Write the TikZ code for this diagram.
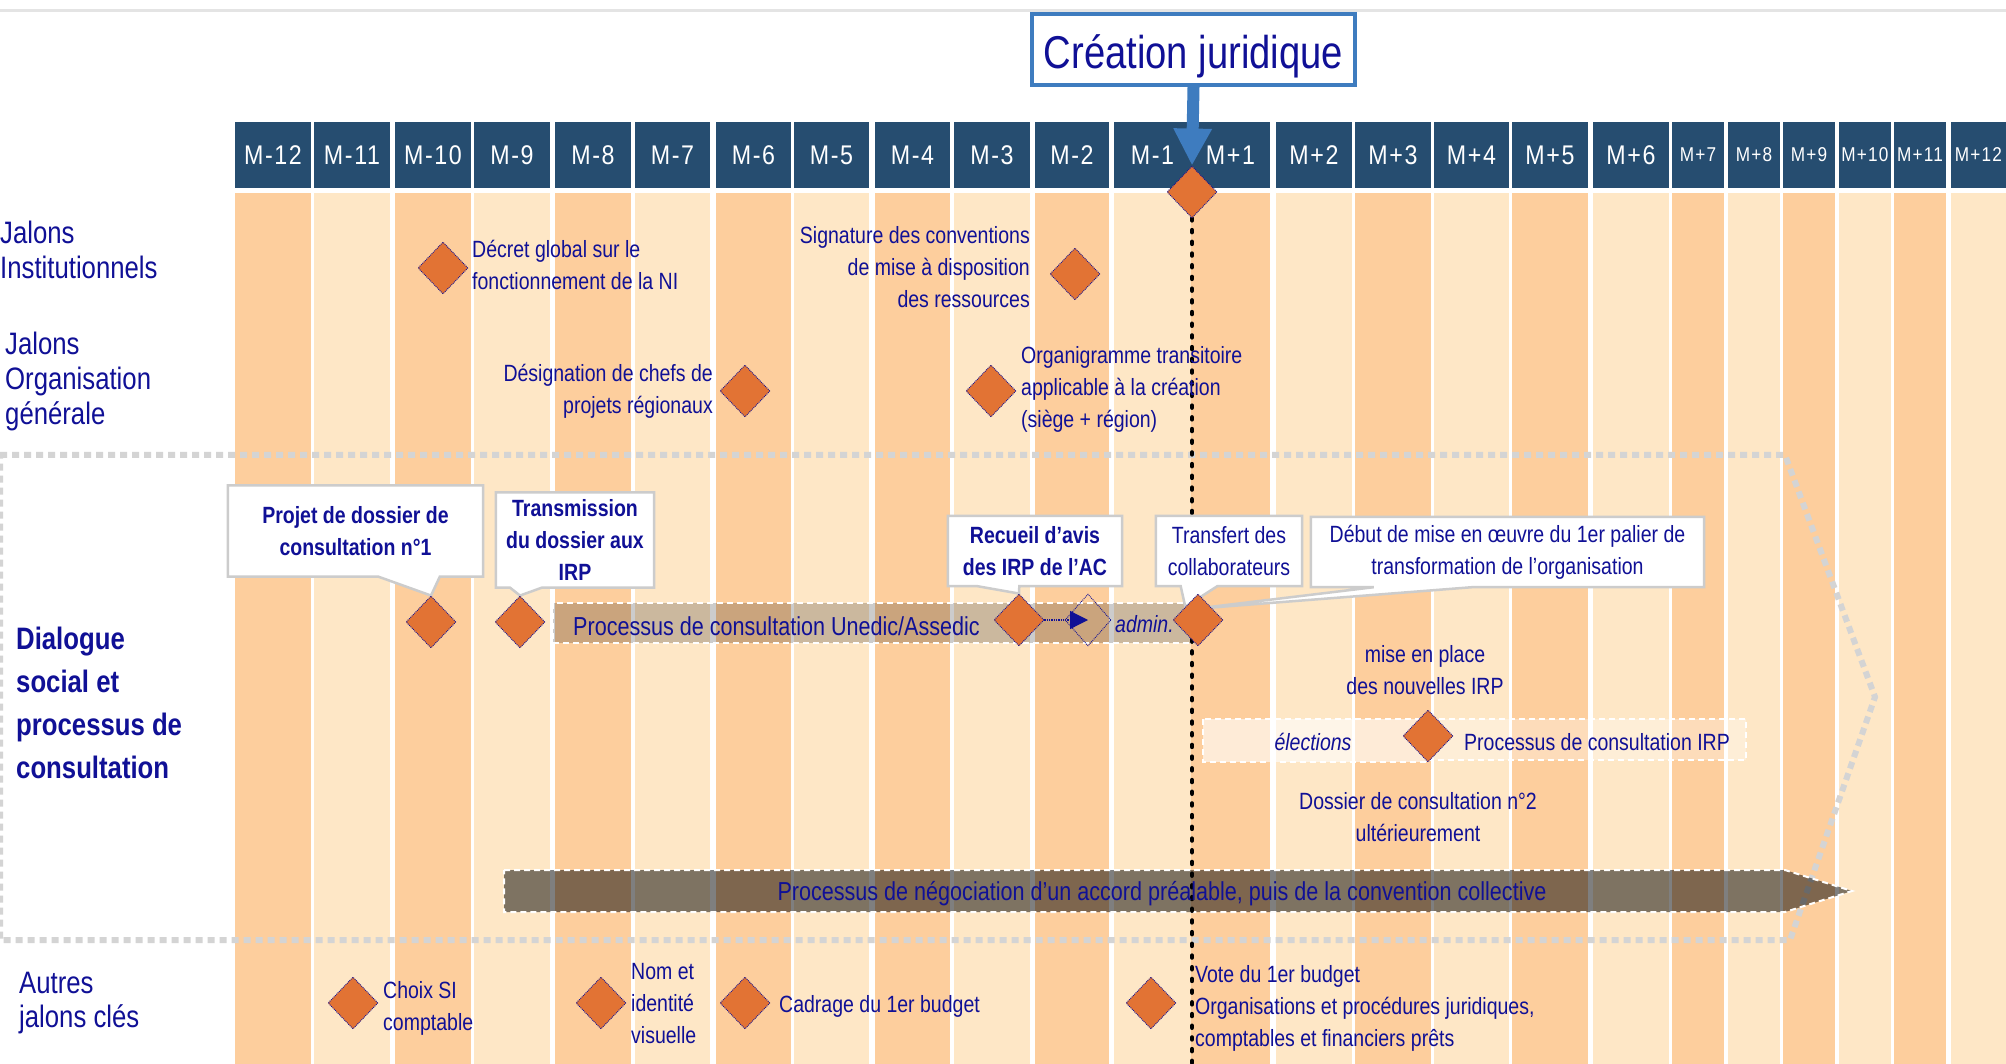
\documentclass[tikz,border=0pt]{standalone}
\usepackage{fontspec}
\setmainfont{Liberation Sans}[FakeStretch=0.83]
\newfontfamily\hdrfont{Liberation Sans}[FakeStretch=0.86,LetterSpace=6]
\usetikzlibrary{shapes.geometric,arrows.meta,calc}
\definecolor{navytxt}{RGB}{16,16,150}
\definecolor{hdrblue}{RGB}{38,77,112}
\definecolor{stripeA}{RGB}{253,206,157}
\definecolor{stripeB}{RGB}{254,231,198}
\definecolor{diafill}{RGB}{226,115,52}
\definecolor{cjblue}{RGB}{62,124,191}
\definecolor{chev}{RGB}{212,212,212}
\definecolor{callgray}{RGB}{204,204,204}
\definecolor{topline}{RGB}{228,228,228}
\pgfdeclarelayer{bg}
\pgfdeclarelayer{mid}
\pgfsetlayers{bg,mid,main}
\begin{document}
\begin{tikzpicture}[x=1pt,y=-1pt,
  body/.style={text=navytxt,inner sep=0pt,font=\fontsize{23.5}{32}\selectfont},
  bodyb/.style={text=navytxt,inner sep=0pt,font=\bfseries\fontsize{23.5}{32}\selectfont},
  bodyi/.style={text=navytxt,inner sep=0pt,font=\itshape\fontsize{23.5}{32}\selectfont},
  bartxt/.style={text=navytxt,inner sep=0pt,font=\fontsize{26}{32}\selectfont},
  side/.style={text=navytxt,inner sep=0pt,align=left,anchor=west,font=\fontsize{31}{35}\selectfont},
  jalon/.style={diamond,aspect=1,fill=diafill,draw=navytxt,densely dotted,line width=0.9,minimum width=50,minimum height=52,inner sep=0pt},
  ghost/.style={diamond,aspect=1,draw=navytxt,densely dotted,line width=0.9,minimum width=46,minimum height=52,inner sep=0pt},
  callout/.style={fill=white,draw=callgray,line width=2.5,line join=miter},
  hdr/.style={fill=hdrblue,text=white,inner sep=0pt,minimum height=66},
  barline/.style={draw=white,line width=2,dash pattern=on 6pt off 4pt}
]
\useasboundingbox (0,0) rectangle (2006,1064);

% ---------- background: top rule, stripes, headers
\begin{pgfonlayer}{bg}
\fill[white] (0,0) rectangle (2006,1064);
\draw[topline,line width=3] (0,11) -- (2006,11);
\foreach \xl/\xr/\lab/\fs/\col [count=\i] in {
  235/311/M-12/27/stripeA, 314/390/M-11/27/stripeB, 395/471/M-10/27/stripeA,
  474/550/M-9/27/stripeB, 555/631/M-8/27/stripeA, 635/710/M-7/27/stripeB,
  716/791/M-6/27/stripeA, 794/869/M-5/27/stripeB, 875/950/M-4/27/stripeA,
  954/1030/M-3/27/stripeB, 1035/1109/M-2/27/stripeA, 1114/1191/M-1/27/stripeB,
  1191/1270/M+1/27/stripeA, 1276/1352/M+2/27/stripeB, 1355/1431/M+3/27/stripeA,
  1434/1509/M+4/27/stripeB, 1512/1588/M+5/27/stripeA, 1593/1669/M+6/27/stripeB,
  1672/1724/M+7/20/stripeA, 1728/1780/M+8/20/stripeB, 1783/1835/M+9/20/stripeA,
  1839/1891/M+10/20/stripeB, 1894/1946/M+11/20/stripeA, 1951/2006/M+12/20/stripeB}
{
  \fill[\col] (\xl,193) rectangle (\xr,1064);
  \node[hdr,minimum width={\xr-\xl},font=\hdrfont\fontsize{\fs}{\fs}\selectfont] (h\i) at ({(\xl+\xr)/2},155) {\lab};
}
\end{pgfonlayer}

% ---------- title box and arrow
\node[draw=cjblue,line width=4,fill=white,minimum width=323,minimum height=71,inner sep=0pt,
      text=navytxt,font=\fontsize{46}{46}\selectfont,text height=41,text depth=3] (cj) at (1193.5,49.5) {Création juridique};
\node[jalon] (dtop) at (1192,192) {};
\draw[cjblue,line width=12,-{Triangle[length=37,width=36]}] (cj.south) -- (dtop.north);

% ---------- side labels
\node[side] (lI) at (0,250) {Jalons\\Institutionnels};
\node[side] (lO) at (5,381.5) {Jalons\\Organisation\\générale};
\node[side,font=\bfseries\fontsize{31}{43}\selectfont] (lD) at (16,702.5) {Dialogue\\social et\\processus de\\consultation};
\node[side,font=\fontsize{31}{34}\selectfont] (lA) at (19,1003.5) {Autres\\jalons clés};

% ---------- jalons institutionnels
\node[jalon] (dI1) at (443,268) {};
\node[body,align=left,anchor=west] (tI1) at (472,265) {Décret global sur le\\fonctionnement de la NI};
\node[jalon] (dI2) at (1075,274) {};
\node[body,align=right,anchor=east] (tI2) at (1030,267) {Signature des conventions\\de mise à disposition\\des ressources};

% ---------- jalons organisation
\node[jalon] (dO1) at (745,391) {};
\node[body,align=right,anchor=east] (tO1) at (713,391.5) {Désignation de chefs de\\projets régionaux};
\node[jalon] (dO2) at (991,391) {};
\node[body,align=left,anchor=west] (tO2) at (1021,389) {Organigramme transitoire\\applicable à la création\\(siège + région)};

% ---------- dialogue social
\node[jalon] (dS1) at (431,622) {};
\node[jalon] (dS2) at (520,622) {};
\node[jalon] (dS3) at (1019,620) {};
\node[ghost] (hd) at (1088,620) {};
\node[jalon] (dS4) at (1198,620) {};
\node[jalon] (dS5) at (1428,736) {};

\node[bartxt,anchor=base west] (tUn) at (573,635) {Processus de consultation Unedic/Assedic};
\node[bodyi,anchor=base west] (tAd) at (1115,632) {admin.};
\draw[navytxt,densely dotted,line width=1.3,-{Triangle[length=18,width=18]}] (dS3.east) -- (hd.center);

\node[bodyb,align=center,minimum width=255,minimum height=91] (cP) at (355.5,531) {Projet de dossier de\\consultation n°1};
\node[bodyb,align=center,minimum width=158,minimum height=95] (cT) at (575,540) {Transmission\\du dossier aux\\IRP};
\node[bodyb,align=center,minimum width=174,minimum height=70] (cR) at (1035,551) {Recueil d’avis\\des IRP de l’AC};
\node[body,align=center,minimum width=146,minimum height=70] (cF) at (1229,551) {Transfert des\\collaborateurs};
\node[body,align=center,minimum width=393,minimum height=70] (cD) at (1507.5,552) {Début de mise en œuvre du 1er palier de\\transformation de l’organisation};

\node[body,align=center] (tMP) at (1425,670) {mise en place\\des nouvelles IRP};
\node[bodyi,anchor=base] (tEl) at (1313,750) {élections};
\node[body,anchor=base west] (tCI) at (1464,750) {Processus de consultation IRP};
\node[body,align=center] (tD2) at (1418,817.5) {Dossier de consultation n°2\\ultérieurement};
\node[bartxt,anchor=base] (tNeg) at (1162,900) {Processus de négociation d’un accord préalable, puis de la convention collective};

% ---------- autres jalons
\node[jalon] (dA1) at (353,1003) {};
\node[body,align=left,anchor=west] (tA1) at (383,1008) {Choix SI\\comptable};
\node[jalon] (dA2) at (601,1003) {};
\node[body,align=left,anchor=west] (tA2) at (631,1004) {Nom et\\identité\\visuelle};
\node[jalon] (dA3) at (745,1003) {};
\node[body,anchor=base west] (tA3) at (779,1012) {Cadrage du 1er budget};
\node[jalon] (dA4) at (1151,1003) {};
\node[body,align=left,anchor=west] (tA4) at (1195,1008.5) {Vote du 1er budget\\Organisations et procédures juridiques,\\comptables et financiers prêts};

\coordinate (dlbot) at (1192,1064);

% ---------- middle layer: section outline, bars, timeline, callouts
\begin{pgfonlayer}{mid}
\draw[chev,line width=6,dash pattern=on 7pt off 5pt] (0,455) -- (1785,455) -- (1875,697) -- (1790,940) -- (0,940) -- cycle;
\path[fill=black,fill opacity=0.2,barline] (553,603) rectangle (1193,643);
\path[fill=white,fill opacity=0.6,barline] (1203,719) rectangle (1429,762);
\path[fill=white,fill opacity=0.3,barline] (1429,719) rectangle (1746,760);
\path[fill=black,fill opacity=0.5,barline] (504,870) -- (1785,870) -- (1852,891) -- (1785,912) -- (504,912) -- cycle;
\draw[black,line width=4.5,line cap=round,dash pattern=on 2pt off 9.7pt] (dtop.south) -- (dlbot);
\path[callout] (cP.north west) -- (cP.north east) -- (cP.south east) -- ($(cP.south west)!0.83!(cP.south east)$) -- (dS1.north) -- ($(cP.south west)!0.59!(cP.south east)$) -- (cP.south west) -- cycle;
\path[callout] (cT.north west) -- (cT.north east) -- (cT.south east) -- ($(cT.south west)!0.29!(cT.south east)$) -- (dS2.north) -- ($(cT.south west)!0.09!(cT.south east)$) -- (cT.south west) -- cycle;
\path[callout] (cR.north west) -- (cR.north east) -- (cR.south east) -- ($(cR.south west)!0.41!(cR.south east)$) -- (dS3.north) -- ($(cR.south west)!0.17!(cR.south east)$) -- (cR.south west) -- cycle;
\path[callout] (cF.north west) -- (cF.north east) -- (cF.south east) -- ($(cF.south west)!0.42!(cF.south east)$) -- (dS4.north west) -- ($(cF.south west)!0.17!(cF.south east)$) -- (cF.south west) -- cycle;
\path[callout] (cD.north west) -- (cD.north east) -- (cD.south east) -- ($(cD.south west)!0.41!(cD.south east)$) -- ($(dS4.center)+(-5,-11)$) -- ($(cD.south west)!0.16!(cD.south east)$) -- (cD.south west) -- cycle;
\end{pgfonlayer}
\end{tikzpicture}
\end{document}
